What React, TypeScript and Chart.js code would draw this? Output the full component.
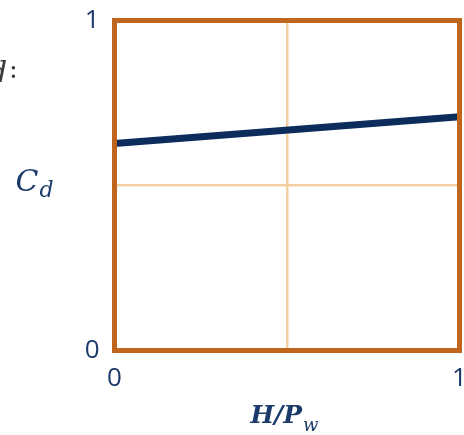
import React, { useEffect, useRef } from "react";
import { Chart, registerables } from "chart.js";

Chart.register(...registerables);

// ---- data ----
const xValues = [0, 1];
const cdValues = [0.627, 0.708];
const xTickLabels: Record<string, string> = { "0": "0", "0.5": "", "1": "1" };
const yTickLabels: Record<string, string> = { "0": "0", "0.5": "", "1": "1" };
const xTitleMain = "H/P";
const xTitleSub = "w";
const yTitleMain = "C";
const yTitleSub = "d";
const cutLabelMain = "d";
const cutLabelColon = ":";

// ---- styles ----
const TEXT_NAVY = "#1c3b6b";
const LINE_NAVY = "#0c2d5b";
const BORDER_ORANGE = "#c0661c";
const GRID_PEACH = "#f5cfa4";
const SERIF = "'DejaVu Serif', 'Liberation Serif', serif";

function drawSubText(
  ctx: CanvasRenderingContext2D,
  main: string,
  sub: string,
  x: number,
  baseline: number,
  mainFont: string,
  subFont: string,
  subDrop: number,
  color: string
) {
  ctx.save();
  ctx.fillStyle = color;
  ctx.textAlign = "left";
  ctx.textBaseline = "alphabetic";
  ctx.font = mainFont;
  ctx.fillText(main, x, baseline);
  const w = ctx.measureText(main).width;
  ctx.font = subFont;
  ctx.fillText(sub, x + w + 1, baseline + subDrop);
  ctx.restore();
}

const decorPlugin = {
  id: "decor",
  afterDraw(chart: any) {
    const ctx: CanvasRenderingContext2D = chart.ctx;
    const a = chart.chartArea;
    // frame
    ctx.save();
    ctx.strokeStyle = BORDER_ORANGE;
    ctx.lineWidth = 5;
    ctx.strokeRect(a.left, a.top, a.right - a.left, a.bottom - a.top);
    ctx.restore();

    // y title C_d
    drawSubText(
      ctx,
      yTitleMain,
      yTitleSub,
      a.left - 99,
      a.top + 170.5,
      `italic 30px ${SERIF}`,
      `italic 22px ${SERIF}`,
      6,
      TEXT_NAVY
    );
    // x title H/P_w
    drawSubText(
      ctx,
      xTitleMain,
      xTitleSub,
      a.left + 136,
      a.bottom + 72.5,
      `italic bold 25px ${SERIF}`,
      `italic 18px ${SERIF}`,
      8,
      TEXT_NAVY
    );
    // cut-off label at top-left
    ctx.save();
    ctx.fillStyle = "#3a3a3a";
    ctx.textBaseline = "alphabetic";
    ctx.font = `italic 30px ${SERIF}`;
    ctx.fillText(cutLabelMain, -12, 82);
    ctx.font = `26px ${SERIF}`;
    ctx.fillText(cutLabelColon, 9, 78);
    ctx.restore();
  },
};

export default function App() {
  const canvasRef = useRef<HTMLCanvasElement | null>(null);

  useEffect(() => {
    const canvas = canvasRef.current;
    if (!canvas) return;
    const tickFont = { family: "'Open Sans', sans-serif", size: 26 };
    const chart = new Chart(canvas, {
      type: "line",
      data: {
        datasets: [
          {
            data: xValues.map((x, i) => ({ x, y: cdValues[i] })),
            borderColor: LINE_NAVY,
            borderWidth: 7,
            pointRadius: 0,
            fill: false,
            tension: 0,
          },
        ],
      },
      options: {
        animation: false,
        responsive: false,
        devicePixelRatio: 1,
        layout: { padding: { top: 20.5, right: 4.5, left: 0, bottom: 0 } },
        plugins: {
          legend: { display: false },
          tooltip: { enabled: false },
        },
        scales: {
          x: {
            type: "linear",
            min: 0,
            max: 1,
            afterFit: (scale: any) => {
              scale.height = 84.5;
              scale.paddingLeft = 0;
              scale.paddingRight = 0;
              scale.paddingTop = 0;
              scale.paddingBottom = 0;
            },
            border: { display: false },
            grid: {
              drawTicks: false,
              color: (c: any) => (c.tick && c.tick.value === 0.5 ? GRID_PEACH : "rgba(0,0,0,0)"),
              lineWidth: 2.5,
            },
            ticks: {
              stepSize: 0.5,
              autoSkip: false,
              maxRotation: 0,
              padding: 12,
              color: TEXT_NAVY,
              font: tickFont,
              callback: (v: any) => xTickLabels[String(v)] ?? "",
            },
          },
          y: {
            type: "linear",
            min: 0,
            max: 1,
            afterFit: (scale: any) => {
              scale.width = 114.5;
              scale.paddingLeft = 0;
              scale.paddingRight = 0;
              scale.paddingTop = 0;
              scale.paddingBottom = 0;
            },
            border: { display: false },
            grid: {
              drawTicks: false,
              color: (c: any) => (c.tick && c.tick.value === 0.5 ? GRID_PEACH : "rgba(0,0,0,0)"),
              lineWidth: 2.5,
            },
            ticks: {
              stepSize: 0.5,
              autoSkip: false,
              padding: 15,
              color: TEXT_NAVY,
              font: tickFont,
              callback: (v: any) => yTickLabels[String(v)] ?? "",
            },
          },
        },
      },
      plugins: [decorPlugin],
    } as any);
    return () => chart.destroy();
  }, []);

  return (
    <div style={{ position: "fixed", left: 0, top: 0, width: 464, height: 435, background: "#fff" }}>
      <canvas ref={canvasRef} width={464} height={435} style={{ width: 464, height: 435, display: "block" }} />
    </div>
  );
}
